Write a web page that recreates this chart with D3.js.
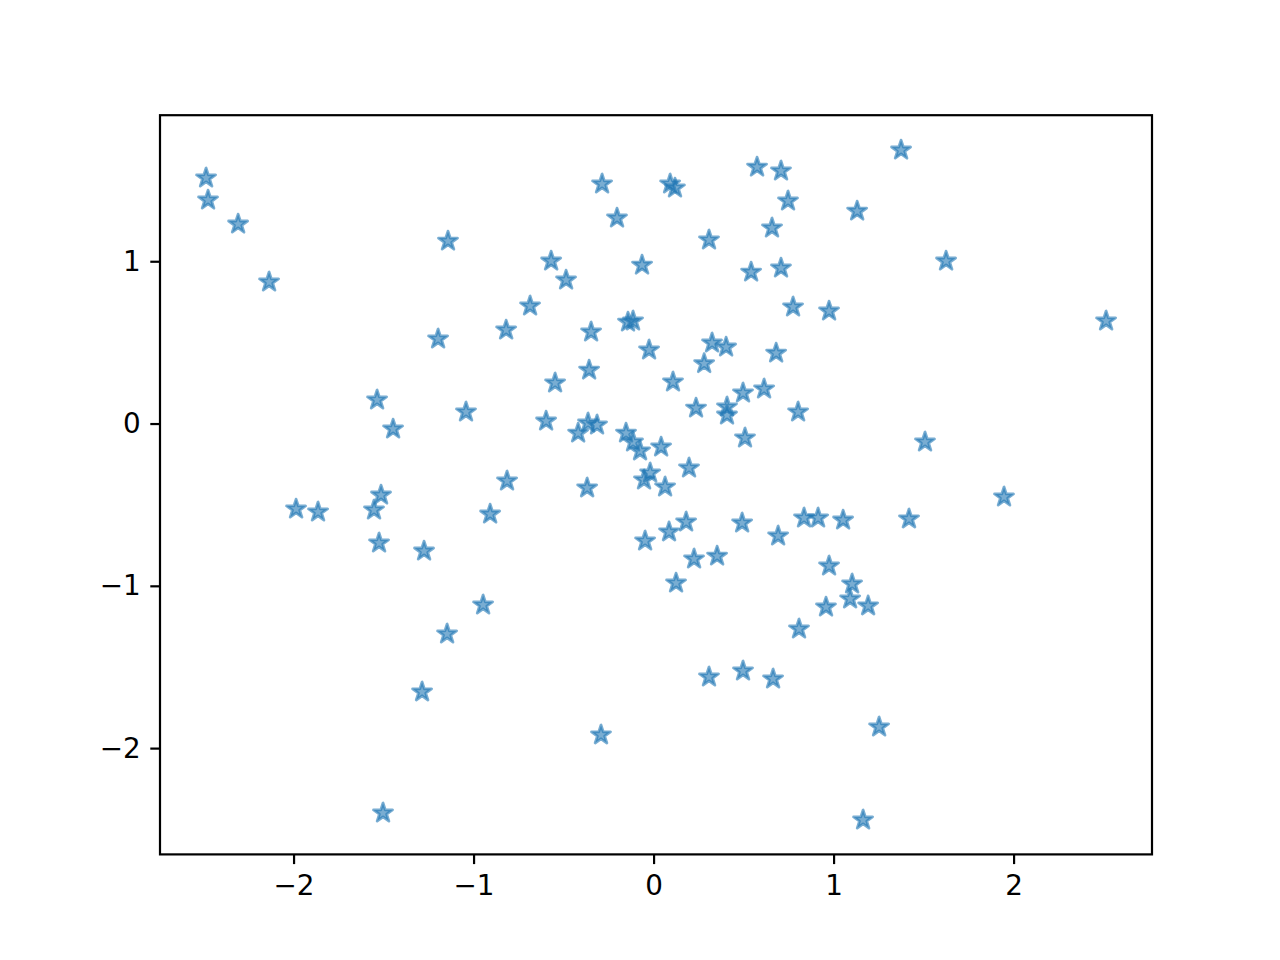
<html>
<head>
<meta charset="utf-8">
<style>
  body { margin: 0; background: #fff; }
  svg { display: block; }
  text { font-family: "DejaVu Sans", sans-serif; }
</style>
</head>
<body>
<script src="https://d3js.org/d3.v7.min.js"></script>
<script>

// point positions
var xs = [-2.486, -2.475, -2.308, -2.136, -1.142, -1.197, -0.819, -0.686, -0.569, -0.486,
          -0.347, -0.358, -0.547, -0.597, -1.042, -1.536, -1.447, -1.986, -1.864, -1.553,
          -1.514, -1.525, -1.275, -0.814, -0.908, -0.369, -0.947, -1.147, -1.286, -1.503,
          -0.292, -0.286, -0.203, -0.064, -0.142, -0.114, -0.025, 0.092, 0.119, 0.308,
          0.575, 0.708, 0.747, 0.658, 1.131, 1.375, 1.625, 0.542, 0.708, 0.775,
          0.975, 0.681, 0.325, 0.403, 0.281, 0.108, 0.236, 0.408, 0.408, 0.614,
          0.497, 0.803, 0.508, 1.508, 1.947, 2.514, -0.364, -0.314, -0.419, -0.153,
          -0.114, -0.075, 0.042, -0.053, -0.019, 0.064, 0.197, -0.047, 0.086, 0.181,
          0.225, 0.353, 0.125, 0.492, 0.692, 0.836, 0.914, 1.053, 1.419, 0.975,
          1.103, 1.092, 0.958, 1.192, 0.808, 0.308, 0.497, 0.664, 1.253, 1.164];

var ys = [1.513, 1.377, 1.229, 0.872, 1.124, 0.521, 0.576, 0.724, 1.001, 0.884,
          0.564, 0.329, 0.250, 0.015, 0.071, 0.145, -0.034, -0.527, -0.545, -0.533,
          -0.441, -0.736, -0.786, -0.354, -0.558, -0.397, -1.118, -1.297, -1.654, -2.400,
          -1.919, 1.476, 1.266, 0.976, 0.625, 0.632, 0.453, 1.476, 1.451, 1.131,
          1.580, 1.556, 1.371, 1.205, 1.309, 1.685, 1.001, 0.933, 0.958, 0.718,
          0.693, 0.434, 0.496, 0.471, 0.369, 0.256, 0.095, 0.102, 0.052, 0.213,
          0.188, 0.071, -0.089, -0.114, -0.453, 0.632, 0.003, -0.009, -0.059, -0.059,
          -0.114, -0.169, -0.145, -0.348, -0.305, -0.391, -0.274, -0.724, -0.668, -0.607,
          -0.835, -0.817, -0.983, -0.613, -0.693, -0.582, -0.582, -0.595, -0.588, -0.878,
          -0.989, -1.081, -1.131, -1.124, -1.266, -1.562, -1.525, -1.574, -1.870, -2.443];

var xTicks = [-2, -1, 0, 1, 2],
    yTicks = [-2, -1, 0, 1];

var width = 1280,
    height = 960;

// axes box (matplotlib default subplot params at 200 dpi)
var plotLeft = 160, plotRight = 1152, plotTop = 115.2, plotBottom = 854.4;

var markerColor = '#1f77b4',
    markerAlpha = 0.6,
    markerRadius = 10,
    markerEdge = 2.78,
    spineWidth = 2.2,
    tickLen = 9.7,
    tickPad = 9.7,
    fontSize = 27.8;

var svg = d3.select('body').append('svg')
    .attr('width', width)
    .attr('height', height);

svg.append('rect')
    .attr('width', width)
    .attr('height', height)
    .attr('fill', '#fff');

var x = d3.scaleLinear()
    .domain([-2.742, 2.769])
    .range([plotLeft, plotRight]);

var y = d3.scaleLinear()
    .domain([-2.655, 1.900])
    .range([plotBottom, plotTop]);

// 5 point star, same proportions as the matplotlib '*' marker
function starPath(r) {
    var inner = r * 0.381966, pts = [];
    for (var i = 0; i < 10; i++) {
        var a = Math.PI / 2 + i * Math.PI / 5,
            rr = i % 2 ? inner : r;
        pts.push([rr * Math.cos(a), -rr * Math.sin(a)]);
    }
    return 'M' + pts.map(function(p) { return p[0].toFixed(2) + ',' + p[1].toFixed(2); }).join('L') + 'Z';
}

var star = starPath(markerRadius);

svg.append('g')
  .selectAll('path')
    .data(d3.range(xs.length))
  .enter().append('path')
    .attr('d', star)
    .attr('transform', function(i) { return 'translate(' + x(xs[i]) + ',' + y(ys[i]) + ')'; })
    .attr('fill', markerColor)
    .attr('fill-opacity', markerAlpha)
    .attr('stroke', markerColor)
    .attr('stroke-opacity', markerAlpha)
    .attr('stroke-width', markerEdge)
    .attr('stroke-linejoin', 'round');

// x axis
var xAxis = svg.append('g')
    .attr('transform', 'translate(0,' + plotBottom + ')')
    .call(d3.axisBottom(x).tickValues(xTicks).tickSize(tickLen).tickPadding(tickPad).tickFormat(d3.format('d')));

// y axis
var yAxis = svg.append('g')
    .attr('transform', 'translate(' + plotLeft + ',0)')
    .call(d3.axisLeft(y).tickValues(yTicks).tickSize(tickLen).tickPadding(tickPad).tickFormat(d3.format('d')));

[xAxis, yAxis].forEach(function(g) {
    g.select('.domain').remove();
    g.selectAll('.tick line').attr('stroke', '#000').attr('stroke-width', spineWidth);
    g.selectAll('.tick text')
        .attr('fill', '#000')
        .style('font-family', '"DejaVu Sans", sans-serif')
        .style('font-size', fontSize + 'px');
});

xAxis.selectAll('.tick text').attr('dy', '0.76em');

// frame
svg.append('rect')
    .attr('x', plotLeft)
    .attr('y', plotTop)
    .attr('width', plotRight - plotLeft)
    .attr('height', plotBottom - plotTop)
    .attr('fill', 'none')
    .attr('stroke', '#000')
    .attr('stroke-width', spineWidth);

</script>
</body>
</html>
